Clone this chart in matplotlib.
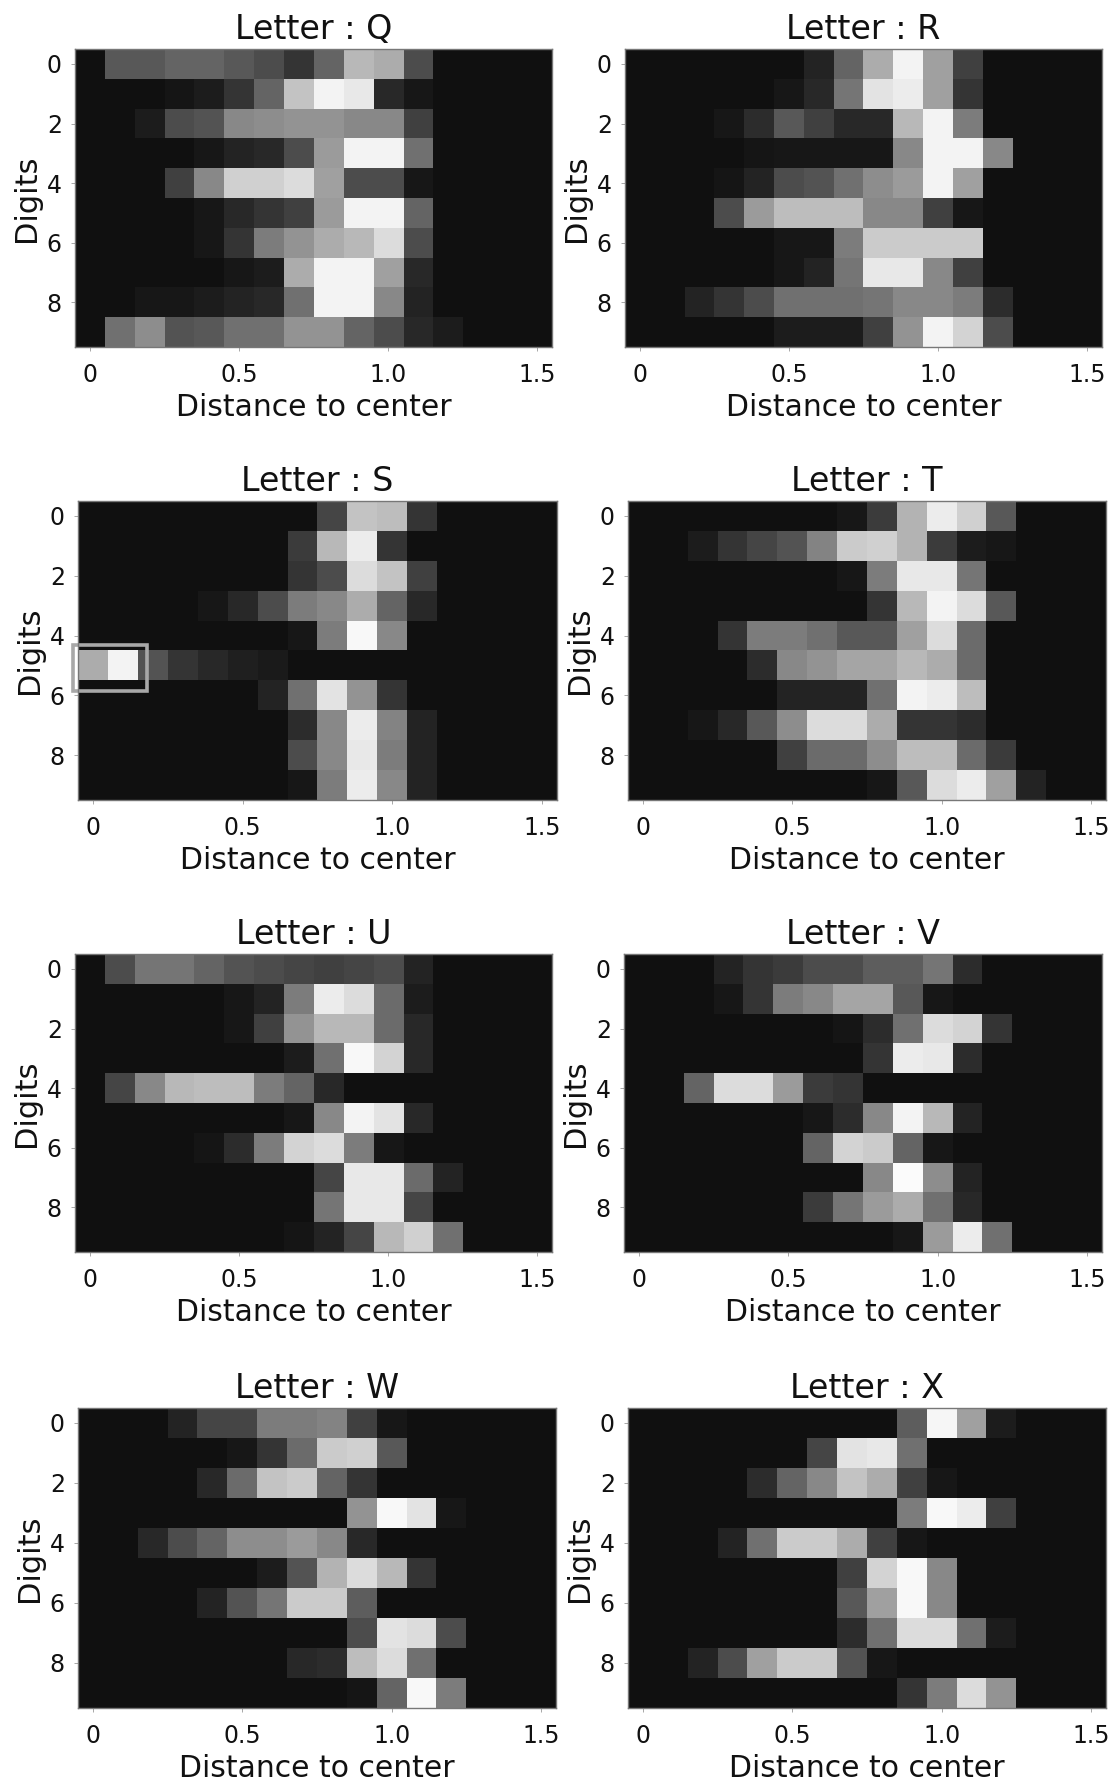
import numpy as np
import matplotlib
matplotlib.use("Agg")
import matplotlib.pyplot as plt
from matplotlib.patches import Rectangle

# Brightness of each cell (0 = black, 100 = white)
letter_q = [
    [0, 30, 30, 35, 35, 30, 25, 15, 35, 70, 65, 25, 0, 0, 0, 0],
    [0, 0, 0, 2, 5, 15, 35, 75, 95, 90, 10, 3, 0, 0, 0, 0],
    [0, 0, 5, 25, 28, 50, 52, 55, 55, 50, 50, 20, 0, 0, 0, 0],
    [0, 0, 0, 0, 3, 8, 10, 25, 58, 95, 95, 40, 0, 0, 0, 0],
    [0, 0, 0, 20, 50, 80, 80, 85, 60, 25, 25, 3, 0, 0, 0, 0],
    [0, 0, 0, 0, 3, 10, 15, 20, 58, 95, 95, 35, 0, 0, 0, 0],
    [0, 0, 0, 0, 3, 15, 45, 55, 65, 70, 85, 25, 0, 0, 0, 0],
    [0, 0, 0, 0, 0, 3, 5, 65, 95, 95, 60, 10, 0, 0, 0, 0],
    [0, 0, 3, 3, 5, 8, 10, 40, 95, 95, 50, 8, 0, 0, 0, 0],
    [0, 40, 52, 28, 30, 40, 40, 55, 55, 35, 25, 10, 5, 0, 0, 0],
]
letter_r = [
    [0, 0, 0, 0, 0, 0, 8, 35, 65, 95, 60, 20, 0, 0, 0, 0],
    [0, 0, 0, 0, 0, 3, 10, 42, 88, 92, 60, 15, 0, 0, 0, 0],
    [0, 0, 0, 3, 12, 30, 20, 10, 10, 70, 95, 45, 0, 0, 0, 0],
    [0, 0, 0, 0, 2, 3, 3, 3, 3, 50, 95, 95, 50, 0, 0, 0],
    [0, 0, 0, 2, 8, 25, 28, 40, 52, 58, 95, 60, 0, 0, 0, 0],
    [0, 0, 0, 25, 58, 72, 72, 72, 50, 50, 20, 3, 0, 0, 0, 0],
    [0, 0, 0, 0, 0, 3, 3, 45, 78, 78, 78, 78, 0, 0, 0, 0],
    [0, 0, 0, 0, 0, 3, 8, 42, 90, 90, 50, 20, 0, 0, 0, 0],
    [0, 0, 8, 15, 25, 40, 40, 40, 42, 50, 50, 45, 12, 0, 0, 0],
    [0, 0, 0, 0, 0, 5, 5, 5, 20, 55, 95, 82, 25, 0, 0, 0],
]
letter_s = [
    [0, 0, 0, 0, 0, 0, 0, 0, 22, 75, 72, 15, 0, 0, 0, 0],
    [0, 0, 0, 0, 0, 0, 0, 18, 70, 92, 15, 0, 0, 0, 0, 0],
    [0, 0, 0, 0, 0, 0, 0, 15, 25, 85, 75, 20, 0, 0, 0, 0],
    [0, 0, 0, 0, 3, 10, 25, 45, 50, 65, 35, 10, 0, 0, 0, 0],
    [0, 0, 0, 0, 0, 0, 0, 3, 45, 97, 50, 0, 0, 0, 0, 0],
    [65, 95, 28, 15, 10, 6, 4, 0, 0, 0, 0, 0, 0, 0, 0, 0],
    [0, 0, 0, 0, 0, 0, 8, 40, 88, 55, 15, 0, 0, 0, 0, 0],
    [0, 0, 0, 0, 0, 0, 0, 12, 50, 92, 48, 8, 0, 0, 0, 0],
    [0, 0, 0, 0, 0, 0, 0, 25, 50, 90, 45, 8, 0, 0, 0, 0],
    [0, 0, 0, 0, 0, 0, 0, 3, 45, 92, 50, 8, 0, 0, 0, 0],
]
letter_t = [
    [0, 0, 0, 0, 0, 0, 0, 3, 18, 68, 92, 80, 30, 0, 0, 0],
    [0, 0, 5, 15, 22, 28, 48, 78, 80, 68, 18, 5, 3, 0, 0, 0],
    [0, 0, 0, 0, 0, 0, 0, 3, 45, 90, 90, 42, 0, 0, 0, 0],
    [0, 0, 0, 0, 0, 0, 0, 0, 15, 70, 95, 85, 30, 0, 0, 0],
    [0, 0, 0, 15, 45, 45, 40, 30, 30, 60, 85, 38, 0, 0, 0, 0],
    [0, 0, 0, 0, 12, 50, 55, 62, 62, 70, 65, 38, 0, 0, 0, 0],
    [0, 0, 0, 0, 0, 8, 8, 8, 40, 95, 92, 72, 0, 0, 0, 0],
    [0, 0, 3, 10, 30, 52, 85, 85, 65, 15, 15, 12, 0, 0, 0, 0],
    [0, 0, 0, 0, 0, 20, 38, 38, 52, 72, 72, 38, 18, 0, 0, 0],
    [0, 0, 0, 0, 0, 0, 0, 0, 3, 30, 85, 92, 60, 8, 0, 0],
]
letter_u = [
    [0, 25, 42, 42, 35, 28, 25, 22, 20, 22, 25, 8, 0, 0, 0, 0],
    [0, 0, 0, 0, 0, 3, 8, 45, 92, 85, 38, 5, 0, 0, 0, 0],
    [0, 0, 0, 0, 0, 3, 20, 55, 70, 70, 38, 10, 0, 0, 0, 0],
    [0, 0, 0, 0, 0, 0, 0, 5, 40, 97, 82, 10, 0, 0, 0, 0],
    [0, 22, 50, 70, 72, 72, 45, 35, 10, 0, 0, 0, 0, 0, 0, 0],
    [0, 0, 0, 0, 0, 0, 0, 3, 50, 95, 88, 10, 0, 0, 0, 0],
    [0, 0, 0, 0, 2, 12, 45, 82, 85, 45, 3, 0, 0, 0, 0, 0],
    [0, 0, 0, 0, 0, 0, 0, 0, 22, 90, 90, 38, 8, 0, 0, 0],
    [0, 0, 0, 0, 0, 0, 0, 0, 42, 90, 90, 22, 0, 0, 0, 0],
    [0, 0, 0, 0, 0, 0, 0, 2, 8, 22, 70, 80, 40, 0, 0, 0],
]
letter_v = [
    [0, 0, 0, 8, 15, 18, 25, 25, 32, 32, 42, 12, 0, 0, 0, 0],
    [0, 0, 0, 3, 15, 45, 50, 62, 62, 30, 3, 0, 0, 0, 0, 0],
    [0, 0, 0, 0, 0, 0, 0, 2, 12, 40, 85, 82, 15, 0, 0, 0],
    [0, 0, 0, 0, 0, 0, 0, 0, 15, 92, 90, 12, 0, 0, 0, 0],
    [0, 0, 35, 85, 85, 58, 18, 15, 0, 0, 0, 0, 0, 0, 0, 0],
    [0, 0, 0, 0, 0, 0, 3, 12, 50, 95, 70, 8, 0, 0, 0, 0],
    [0, 0, 0, 0, 0, 0, 35, 82, 78, 35, 3, 0, 0, 0, 0, 0],
    [0, 0, 0, 0, 0, 0, 0, 0, 50, 98, 52, 8, 0, 0, 0, 0],
    [0, 0, 0, 0, 0, 0, 18, 42, 58, 65, 40, 10, 0, 0, 0, 0],
    [0, 0, 0, 0, 0, 0, 0, 0, 0, 3, 58, 92, 40, 0, 0, 0],
]
letter_w = [
    [0, 0, 0, 8, 22, 22, 45, 45, 48, 20, 3, 0, 0, 0, 0, 0],
    [0, 0, 0, 0, 0, 3, 15, 38, 78, 80, 30, 0, 0, 0, 0, 0],
    [0, 0, 0, 0, 10, 38, 75, 78, 35, 15, 0, 0, 0, 0, 0, 0],
    [0, 0, 0, 0, 0, 0, 0, 0, 0, 55, 97, 88, 3, 0, 0, 0],
    [0, 0, 10, 25, 35, 52, 52, 58, 50, 10, 0, 0, 0, 0, 0, 0],
    [0, 0, 0, 0, 0, 0, 5, 28, 68, 85, 70, 15, 0, 0, 0, 0],
    [0, 0, 0, 0, 8, 28, 42, 78, 78, 32, 0, 0, 0, 0, 0, 0],
    [0, 0, 0, 0, 0, 0, 0, 0, 0, 25, 88, 85, 25, 0, 0, 0],
    [0, 0, 0, 0, 0, 0, 0, 10, 12, 72, 85, 40, 0, 0, 0, 0],
    [0, 0, 0, 0, 0, 0, 0, 0, 0, 2, 35, 97, 45, 0, 0, 0],
]
letter_x = [
    [0, 0, 0, 0, 0, 0, 0, 0, 0, 32, 96, 60, 5, 0, 0, 0],
    [0, 0, 0, 0, 0, 0, 22, 88, 90, 40, 0, 0, 0, 0, 0, 0],
    [0, 0, 0, 0, 12, 35, 50, 75, 65, 20, 3, 0, 0, 0, 0, 0],
    [0, 0, 0, 0, 0, 0, 0, 0, 0, 45, 97, 92, 20, 0, 0, 0],
    [0, 0, 0, 8, 40, 78, 78, 65, 20, 3, 0, 0, 0, 0, 0, 0],
    [0, 0, 0, 0, 0, 0, 0, 20, 82, 97, 50, 0, 0, 0, 0, 0],
    [0, 0, 0, 0, 0, 0, 0, 30, 60, 97, 50, 0, 0, 0, 0, 0],
    [0, 0, 0, 0, 0, 0, 0, 12, 40, 85, 85, 40, 5, 0, 0, 0],
    [0, 0, 8, 25, 60, 78, 78, 28, 3, 0, 0, 0, 0, 0, 0, 0],
    [0, 0, 0, 0, 0, 0, 0, 0, 0, 15, 45, 85, 55, 0, 0, 0],
]

letters = ["Q", "R", "S", "T", "U", "V", "W", "X"]
grids = [letter_q, letter_r, letter_s, letter_t, letter_u, letter_v, letter_w, letter_x]
x_ticks = [0, 0.5, 1.0, 1.5]
x_tick_labels = ["0", "0.5", "1.0", "1.5"]
y_ticks = [0, 2, 4, 6, 8]

# left, right, top, bottom of each panel in pixels
boxes = [
    (75, 552, 49, 347), (625, 1102, 49, 347),
    (78, 557, 501, 800), (628, 1106, 501, 800),
    (75, 552, 954, 1252), (624, 1102, 954, 1252),
    (78, 556, 1408, 1708), (628, 1106, 1408, 1708),
]

W, H = 1115, 1786
fig = plt.figure(figsize=(W / 100, H / 100), dpi=100)
text_color = "#111111"

for letter, grid, box in zip(letters, grids, boxes):
    left, right, top, bottom = box
    ax = fig.add_axes([left / W, 1 - bottom / H, (right - left) / W, (bottom - top) / H])
    ax.imshow(np.array(grid), cmap="gray", vmin=-7, vmax=100, aspect="auto",
              extent=(-0.05, 1.55, 9.5, -0.5), interpolation="nearest")
    ax.set_title("Letter : " + letter, fontsize=24, color=text_color, pad=7.5)
    ax.set_xlabel("Distance to center", fontsize=21.5, color=text_color, labelpad=4.5)
    ax.set_ylabel("Digits", fontsize=22, color=text_color, labelpad=4)
    ax.set_xticks(x_ticks)
    ax.set_xticklabels(x_tick_labels)
    ax.set_yticks(y_ticks)
    ax.tick_params(labelsize=17, labelcolor=text_color, color="#999999", length=3, width=0.6)
    ax.tick_params(axis="x", pad=8.5)
    ax.tick_params(axis="y", pad=6.5)
    for spine in ax.spines.values():
        spine.set_color("#777777")
        spine.set_linewidth(1.0)
    if letter == "S":
        # grey box around the bright cells of digit 5
        ax.add_patch(Rectangle((-0.067, 4.3), 0.247, 1.57, fill=False,
                               edgecolor="#a8a8a8", linewidth=2.6, clip_on=False))

fig.savefig("out.png", dpi=100)
